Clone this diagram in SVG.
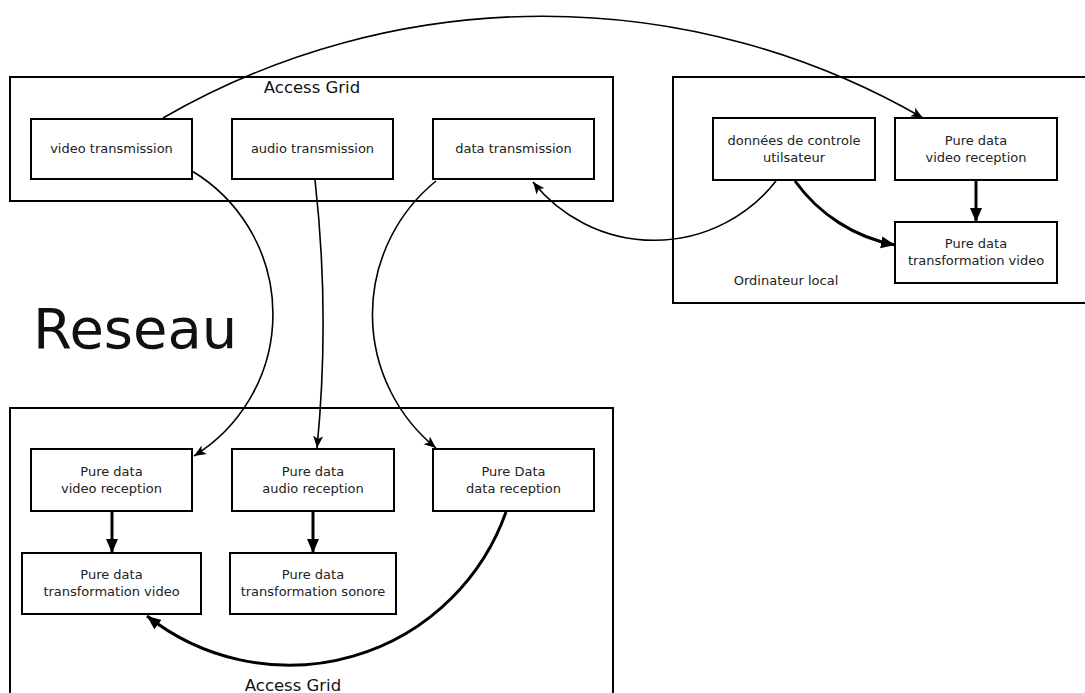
<svg xmlns="http://www.w3.org/2000/svg" width="1085" height="693" viewBox="0 0 1085 693">
<style>
.cont{fill:none;stroke:#000;stroke-width:2}
.box{fill:#fff;stroke:#000;stroke-width:2}
.t{font-family:"DejaVu Sans",sans-serif;font-size:13px;fill:#222;text-anchor:middle}
.big{font-family:"DejaVu Sans",sans-serif;font-size:16.5px;fill:#111;text-anchor:middle}
.thin{fill:none;stroke:#000;stroke-width:1.6;marker-end:url(#ah)}
.thick{fill:none;stroke:#000;stroke-width:3;marker-end:url(#ahb)}
</style>
<defs>
<marker id="ah" markerUnits="userSpaceOnUse" markerWidth="14" markerHeight="12" refX="12" refY="6" orient="auto"><path d="M0,1 L12,6 L0,11 L3,6 z" fill="#000"/></marker>
<marker id="ahb" markerUnits="userSpaceOnUse" markerWidth="16" markerHeight="14" refX="14" refY="7" orient="auto"><path d="M0,1 L14,7 L0,13 z" fill="#000"/></marker>
</defs>
<rect width="1085" height="693" fill="#fff"/>
<g id="containers">
<rect class="cont" x="10" y="77" width="603" height="124"/>
<text class="big" x="312" y="93">Access Grid</text>
<rect class="cont" x="673" y="77" width="420" height="226"/>
<text class="t" x="786" y="285">Ordinateur local</text>
<rect class="cont" x="10" y="408" width="603" height="300"/>
<text class="big" x="293" y="691">Access Grid</text>
</g>
<text id="reseau" x="33" y="348" font-family="DejaVu Sans, sans-serif" font-size="56" fill="#111">Reseau</text>
<g id="video-transmission"><rect class="box" x="31" y="119" width="161" height="60"/><text class="t" x="111.5" y="153">video transmission</text></g>
<g id="audio-transmission"><rect class="box" x="232" y="119" width="161" height="60"/><text class="t" x="312.5" y="153">audio transmission</text></g>
<g id="data-transmission"><rect class="box" x="433" y="119" width="161" height="60"/><text class="t" x="513.5" y="153">data transmission</text></g>
<g id="donnees-controle"><rect class="box" x="713" y="118" width="162" height="62"/><text class="t" x="794" y="145">données de controle</text><text class="t" x="794" y="162">utilsateur</text></g>
<g id="local-video-reception"><rect class="box" x="895" y="118" width="162" height="62"/><text class="t" x="976" y="145">Pure data</text><text class="t" x="976" y="162">video reception</text></g>
<g id="local-transformation-video"><rect class="box" x="895" y="222" width="162" height="61"/><text class="t" x="976" y="248">Pure data</text><text class="t" x="976" y="265">transformation video</text></g>
<g id="video-reception"><rect class="box" x="31" y="449" width="161" height="62"/><text class="t" x="111.5" y="476">Pure data</text><text class="t" x="111.5" y="493">video reception</text></g>
<g id="audio-reception"><rect class="box" x="232" y="449" width="162" height="62"/><text class="t" x="313" y="476">Pure data</text><text class="t" x="313" y="493">audio reception</text></g>
<g id="data-reception"><rect class="box" x="433" y="449" width="161" height="62"/><text class="t" x="513.5" y="476">Pure Data</text><text class="t" x="513.5" y="493">data reception</text></g>
<g id="transformation-video"><rect class="box" x="22" y="553" width="179" height="61"/><text class="t" x="111.5" y="578.5">Pure data</text><text class="t" x="111.5" y="595.5">transformation video</text></g>
<g id="transformation-sonore"><rect class="box" x="230" y="553" width="166" height="61"/><text class="t" x="313" y="578.5">Pure data</text><text class="t" x="313" y="595.5">transformation sonore</text></g>
<g id="connectors">
<path class="thin" d="M163,118 A760,760 0 0 1 923,118"/>
<path class="thin" d="M192,171 A167,167 0 0 1 194,456"/>
<path class="thin" d="M315,180 A1276,1276 0 0 1 317,448"/>
<path class="thin" d="M436,181 A172,172 0 0 0 436,448"/>
<path class="thin" d="M776,181 A155,155 0 0 1 533,182"/>
<path class="thick" d="M795,181 A160,160 0 0 0 895,245"/>
<path class="thick" d="M976,181 L976,222"/>
<path class="thick" d="M112,512 L112,553"/>
<path class="thick" d="M313,512 L313,553"/>
<path class="thick" d="M506,512 A230,230 0 0 1 147,616"/>
</g>
</svg>
